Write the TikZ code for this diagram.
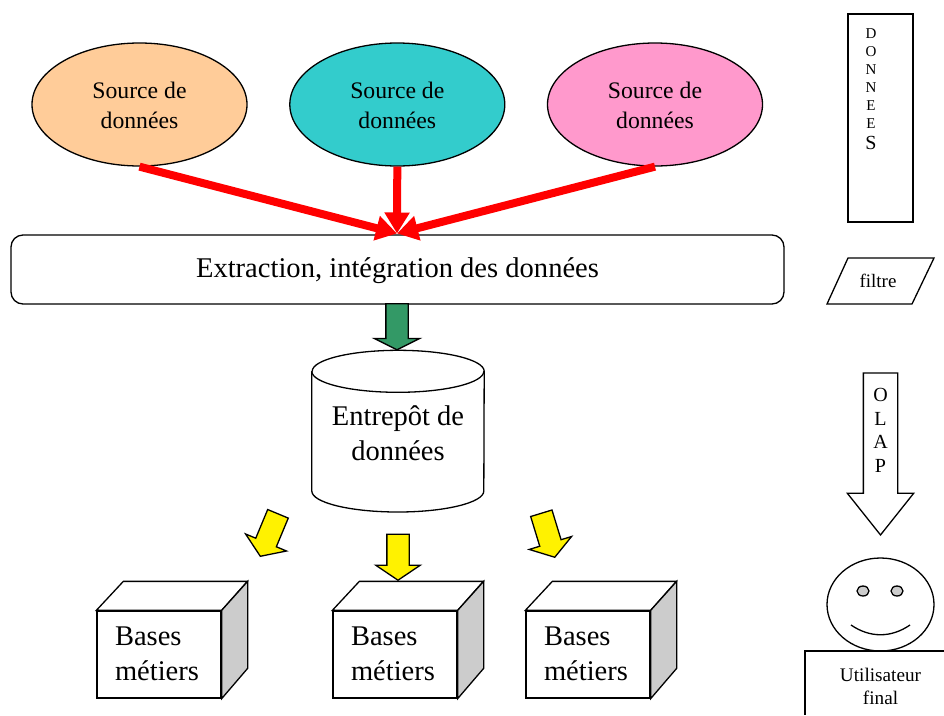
\documentclass[tikz,border=0pt]{standalone}
\usepackage{fontspec}
\setmainfont{Liberation Serif}
\usetikzlibrary{shapes.geometric,shapes.arrows,arrows.meta}
\definecolor{srcorange}{HTML}{FFCC99}
\definecolor{srcteal}{HTML}{33CCCC}
\definecolor{srcpink}{HTML}{FF99CC}
\definecolor{sidegray}{HTML}{CCCCCC}
\definecolor{seagreen}{HTML}{339966}
\newcommand{\cubebox}[2]{%
  \node[frontface] (#1) at (#2,654.5) {Bases\\métiers\rule[-2pt]{0pt}{1pt}};
  \draw[lin,fill=white] (#1.north west) -- ++(27,-29) -- ++(124,0) -- (#1.north east) -- cycle;
  \draw[lin,fill=sidegray] (#1.north east) -- ++(26,-29) -- ++(0,87) -- (#1.south east) -- cycle;
}
\newcommand{\srctext}{\rule{0pt}{18.2pt}Source de\\données}
\tikzset{
  lin/.style={draw=black,line width=1.3pt},
  source/.style={ellipse,lin,minimum width=215pt,minimum height=123pt,inner sep=0pt,align=center,font=\fontsize{23.7}{30}\selectfont},
  redarrow/.style={draw=red,line width=8pt,-{Triangle[length=21pt,width=24pt]}},
  frontface/.style={rectangle,lin,fill=white,minimum width=124pt,minimum height=87pt,inner xsep=18pt,inner ysep=0pt,text width=88pt,align=left,font=\fontsize{28.5}{35.2}\selectfont},
  blockarrow/.style={single arrow,lin,anchor=tip,inner xsep=0pt},
  yarrow/.style={blockarrow,fill=yellow,inner ysep=10.5pt,minimum width=43pt,minimum height=46pt,single arrow head extend=11pt,single arrow tip angle=112},
}
\begin{document}
\begin{tikzpicture}[x=1pt,y=-1pt]
\useasboundingbox (0,0) rectangle (944,715);

% sources
\node[source,fill=srcorange] (s1) at (139.5,104.5) {\srctext};
\node[source,fill=srcteal]   (s2) at (397.3,104.5) {\srctext};
\node[source,fill=srcpink]   (s3) at (655,104.5) {\srctext};

% extraction
\node[rectangle,rounded corners=12pt,lin,fill=white,minimum width=773pt,minimum height=69pt,inner sep=0pt,font=\fontsize{28.56}{34}\selectfont] (ext) at (397.5,269.5) {\rule{0pt}{23pt}Extraction, intégration des données};

\coordinate (conv) at (397,233.5);
\draw[redarrow] (s1.south) -- (conv);
\draw[redarrow] (s2.south) -- (conv);
\draw[redarrow] (s3.south) -- (conv);

% warehouse
\node[rectangle,minimum width=172pt,minimum height=162pt,inner sep=0pt] (dw) at (398,431.5) {};
\draw[lin,fill=white] (dw.north west) ++(0,21) coordinate (cl) -- (dw.west |- 0,491) arc[start angle=180,end angle=360,x radius=86pt,y radius=21pt] -- (cl -| dw.east) arc[start angle=0,end angle=180,x radius=86pt,y radius=21pt];
\draw[lin] (cl) arc[start angle=180,end angle=360,x radius=86pt,y radius=21pt];
\node[align=center,font=\fontsize{28.5}{35.2}\selectfont] (dwtext) at (398,433.5) {Entrepôt de\\données};

% green arrow
\node[blockarrow,fill=seagreen,inner ysep=10.5pt,rotate=-90,minimum width=44pt,minimum height=46pt,single arrow head extend=11.5pt,single arrow tip angle=127] (garrow) at (397,350.5) {};

% yellow arrows
\node[yarrow,rotate=-112.6] (y1) at (260,557) {};
\node[yarrow,rotate=-90] (y2) at (398,581) {};
\node[yarrow,rotate=-73] (y3) at (555,558) {};

% cubes
\cubebox{c1}{159}
\cubebox{c2}{395}
\cubebox{c3}{588}

% data column
\node[rectangle,lin,minimum width=65pt,minimum height=208pt,inner sep=0pt] (data) at (880.5,118) {};
\node[anchor=north,inner sep=0pt,align=center,font=\fontsize{15}{18}\selectfont] (datatext) at (871,28) {D\\O\\N\\N\\E\\E\\[3pt]{\fontsize{20}{20}\selectfont S}};

% filter
\node[inner sep=0pt,minimum width=65pt,minimum height=46pt,font=\fontsize{19}{23}\selectfont] (filt) at (878,281) {filtre};
\draw[lin,line join=miter] (848,258) -- (934,258) -- (912,304) -- (827,304) -- cycle;

% OLAP
\node[blockarrow,fill=white,inner ysep=16.5pt,rotate=-90,minimum width=65pt,minimum height=162pt,single arrow head extend=16pt,single arrow tip angle=77] (olap) at (880.5,536) {};
\node[anchor=north,inner sep=0pt,align=center,font=\fontsize{20}{23.7}\selectfont] (olaptext) at (880.5,388) {O\\L\\A\\P};

% user
\node[ellipse,lin,minimum width=107pt,minimum height=93pt,inner sep=0pt] (face) at (880.5,604.5) {};
\node[ellipse,lin,fill=sidegray,minimum width=12pt,minimum height=10pt,inner sep=0pt] (eye1) at (863,591) {};
\node[ellipse,lin,fill=sidegray,minimum width=12pt,minimum height=10pt,inner sep=0pt] (eye2) at (897,591) {};
\coordinate (sm1) at (851,625);
\coordinate (sm2) at (910,625);
\draw[lin,fill=none] (sm1) .. controls (870,638) and (891,638) .. (sm2);
\draw[lin] (944,651) -- (805,651) -- (805,715);
\node[align=center,inner sep=0pt,font=\fontsize{19.2}{23.5}\selectfont] (user) at (880.5,686.5) {Utilisateur\\final};
\end{tikzpicture}
\end{document}
